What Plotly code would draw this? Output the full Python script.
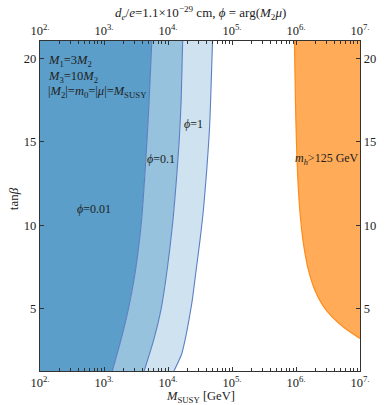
import plotly.graph_objects as go

# tan(beta) range of the scan
tanb_min, tanb_max = 1.28, 21.04

# EDM exclusion boundaries: log10(M_SUSY / GeV) as a function of tan(beta)
tanb_phi001 = [1.28, 3.14, 4.94, 6.73, 8.53, 10.32, 12.71, 15.11, 17.50, 21.04]
logm_phi001 = [3.130, 3.265, 3.378, 3.468, 3.536, 3.587, 3.633, 3.672, 3.706, 3.747]

tanb_phi01 = [1.28, 3.14, 4.94, 6.73, 8.53, 10.32, 12.71, 15.11, 17.50, 21.04]
logm_phi01 = [3.627, 3.777, 3.890, 3.965, 4.026, 4.078, 4.131, 4.176, 4.206, 4.229]

tanb_phi1 = [1.28, 2.30, 3.14, 4.34, 5.54, 7.33, 9.12, 10.92, 13.31, 16.00, 21.04]
logm_phi1 = [4.093, 4.214, 4.267, 4.327, 4.380, 4.440, 4.500, 4.553, 4.605, 4.651, 4.696]

# Higgs mass boundary (m_h > 125 GeV to the right)
tanb_mh = [21.04, 17.50, 15.11, 12.72, 10.62, 8.83, 7.33, 6.14, 5.24, 4.52, 3.86, 3.23]
logm_mh = [5.976, 5.991, 6.006, 6.029, 6.066, 6.119, 6.194, 6.292, 6.413, 6.563, 6.759, 7.0]

# axis ticks
decades = [2, 3, 4, 5, 6, 7]
tanb_ticks = [5, 10, 15, 20]

FONT = "Liberation Serif"
EDGE = "#5b7fc3"
FILLS = ["#5a9ec9", "#96c2dd", "#cee3ef"]

fig = go.Figure()

# left edge of the plot, base for the stacked blue bands
fig.add_trace(go.Scatter(x=[10 ** decades[0]] * 2, y=[tanb_min, tanb_max],
                         mode="lines", line=dict(width=0), hoverinfo="skip",
                         showlegend=False))
for (tb, lm), col in zip([(tanb_phi001, logm_phi001),
                          (tanb_phi01, logm_phi01),
                          (tanb_phi1, logm_phi1)], FILLS):
    fig.add_trace(go.Scatter(x=[10 ** v for v in lm], y=tb, mode="lines",
                             line=dict(color=EDGE, width=1.1, shape="spline",
                                       smoothing=0.6),
                             fill="tonextx", fillcolor=col, hoverinfo="skip",
                             showlegend=False))

# right edge, base for the Higgs-mass region
fig.add_trace(go.Scatter(x=[10 ** decades[-1]] * 2, y=[tanb_max, tanb_mh[-1]],
                         mode="lines", line=dict(width=0), hoverinfo="skip",
                         showlegend=False))
fig.add_trace(go.Scatter(x=[10 ** v for v in logm_mh], y=tanb_mh, mode="lines",
                         line=dict(color="#ff8c1a", width=1.2, shape="spline",
                                   smoothing=0.6),
                         fill="tonextx", fillcolor="#ffab57", hoverinfo="skip",
                         showlegend=False))

# invisible trace that carries the top and right axes
fig.add_trace(go.Scatter(x=[10 ** decades[0], 10 ** decades[-1]],
                         y=[tanb_min, tanb_max], xaxis="x2", yaxis="y2",
                         mode="markers", marker=dict(opacity=0),
                         hoverinfo="skip", showlegend=False))

dec_vals = [10 ** d for d in decades]
dec_text = [f"10<sup>{d}.</sup>" for d in decades]
minor_vals = [m * 10 ** d for d in decades[:-1] for m in range(2, 10)]

xcommon = dict(type="log", range=[decades[0], decades[-1]], tickvals=dec_vals,
               ticktext=dec_text, ticks="inside", ticklen=4, tickwidth=1,
               tickcolor="#333", showgrid=False, zeroline=False,
               showline=True, linecolor="#333", linewidth=1.3,
               minor=dict(tickvals=minor_vals, ticks="inside", ticklen=2.5,
                          tickwidth=1, tickcolor="#333", showgrid=False),
               tickfont=dict(family=FONT, size=12.5, color="#222"))
ycommon = dict(range=[tanb_min, tanb_max], tickvals=tanb_ticks,
               ticks="inside", ticklen=3.5, tickwidth=1, tickcolor="#333",
               showgrid=False, zeroline=False, showline=True,
               linecolor="#333", linewidth=1.3,
               tickfont=dict(family=FONT, size=12.5, color="#222"))

fig.update_layout(
    width=388, height=405,
    margin=dict(l=40, r=16, t=41, b=34),
    paper_bgcolor="white", plot_bgcolor="white",
    xaxis=dict(**xcommon, side="bottom"),
    xaxis2=dict(**xcommon, side="top", overlaying="x", anchor="y"),
    yaxis=dict(**ycommon, side="left"),
    yaxis2=dict(**ycommon, side="right", overlaying="y", anchor="x"),
    font=dict(family=FONT, size=12.5, color="#222"),
)

ann = []
def paper_text(x, y, text, size=13, **kw):
    ann.append(dict(x=x, y=y, xref="paper", yref="paper", text=text,
                    showarrow=False, font=dict(family=FONT, size=size, color="#222"),
                    **kw))

def data_text(x, y, text, anchor="center", size=12):
    ann.append(dict(x=x, y=y, xref="x", yref="y", text=text, showarrow=False,
                    xanchor=anchor, yanchor="middle",
                    font=dict(family=FONT, size=size, color="#222")))

paper_text(0.5, 1.085, "<i>d</i><sub><i>e</i></sub>/<i>e</i>=1.1×10<sup>−29</sup> cm, "
           "<i>ϕ</i> = arg(<i>M</i><sub>2</sub><i>μ</i>)", xanchor="center",
           yanchor="middle")
paper_text(0.5, -0.079, "<i>M</i><sub>SUSY</sub> [GeV]", size=12.5,
           xanchor="center", yanchor="middle")
paper_text(-0.084, 0.521, "tan<i>β</i>", xanchor="center", yanchor="middle",
           textangle=-90)

data_text(2.09, 19.84, "<i>M</i><sub>1</sub>=3<i>M</i><sub>2</sub>", anchor="left", size=12.5)
data_text(2.09, 18.91, "<i>M</i><sub>3</sub>=10<i>M</i><sub>2</sub>", anchor="left", size=12.5)
data_text(2.09, 17.97, "|<i>M</i><sub>2</sub>|=<i>m</i><sub>0</sub>=|<i>μ</i>|=<i>M</i><sub>SUSY</sub>",
          anchor="left", size=12.5)
data_text(2.843, 10.98, "<i>ϕ</i>=0.01")
data_text(3.893, 13.97, "<i>ϕ</i>=0.1")
data_text(4.395, 16.05, "<i>ϕ</i>=1")
data_text(6.488, 13.97, "<i>m</i><sub><i>h</i></sub>&gt;125 GeV")

fig.update_layout(annotations=ann)
fig.write_html("out.html")
